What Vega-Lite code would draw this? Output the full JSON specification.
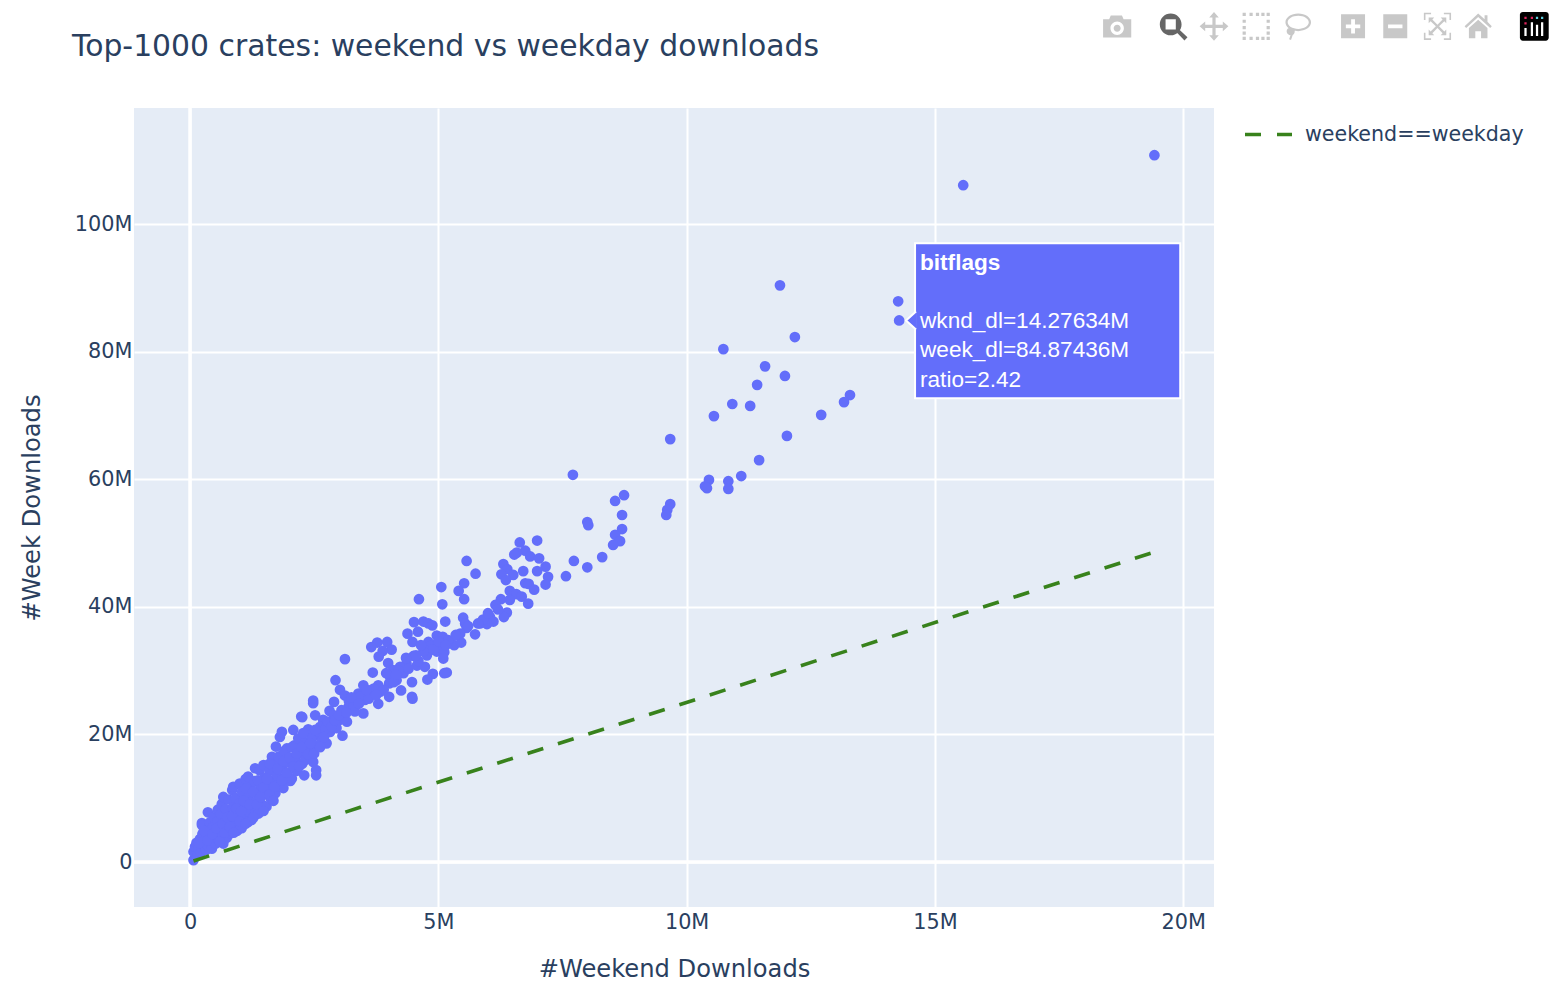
{
  "$schema": "https://vega.github.io/schema/vega-lite/v6.json",
  "description": "Top-1000 crates, weekend vs weekday downloads, values in millions",
  "autosize": {"type": "none"},
  "padding": {"left": 134, "top": 108, "right": 346, "bottom": 100},
  "width": 1080,
  "height": 799,
  "background": "white",
  "view": {"fill": "#e5ecf6", "stroke": null},
  "title": {
    "text": "Top-1000 crates: weekend vs weekday downloads",
    "anchor": "start", "frame": "group", "dx": -62, "offset": 0, "dy": 50,
    "font": "DejaVu Sans", "fontSize": 29.85, "fontWeight": "normal", "color": "#2a3f5f"
  },
  "config": {
    "axis": {
      "domain": false, "ticks": false, "gridColor": "white", "gridWidth": 2, "gridOpacity": 1,
      "labelFont": "DejaVu Sans", "labelFontSize": 20.8, "labelColor": "#2a3f5f",
      "titleFont": "DejaVu Sans", "titleFontSize": 24.2, "titleFontWeight": "normal", "titleColor": "#2a3f5f"
    }
  },
  "datasets": {
    "crates": [
      [19.42,110.8],[15.57,106.1],[11.88,90.4],[14.26,87.9],[14.28,84.9],[12.18,82.3],[10.74,80.4],[11.58,77.7],[11.98,76.2],[11.42,74.8],
      [10.92,71.8],[11.28,71.5],[10.55,69.9],[12.71,70.1],[13.29,73.2],[13.17,72.1],[12.02,66.8],[9.67,66.3],[11.46,63.0],[11.10,60.5],
      [7.71,60.7],[10.45,59.9],[10.84,59.7],[10.37,58.9],[10.41,58.6],[10.84,58.5],[8.74,57.5],[8.56,56.6],[9.67,56.1],[9.61,55.2],
      [9.59,54.4],[8.70,54.4],[8.0,53.3],[8.02,52.8],[8.70,52.2],[8.56,51.3],[8.66,50.3],[8.52,49.7],[8.30,47.8],[8.0,46.2],
      [7.73,47.2],[7.57,44.8],[6.99,50.4],[6.64,50.1],[6.75,48.8],[6.58,48.5],[6.53,48.2],[6.85,47.9],[7.03,47.6],[7.16,46.3],
      [7.21,44.7],[7.16,43.5],[6.99,45.6],[6.71,45.6],[6.31,46.7],[6.39,45.9],[6.27,45.1],[6.51,45.0],[6.36,44.2],[6.75,43.7],
      [6.82,43.6],[6.93,42.7],[6.44,42.5],[6.57,42.0],[6.68,41.6],[6.81,40.5],[6.44,41.1],[6.26,41.2],[6.15,40.3],[6.38,39.1],
      [6.32,38.4],[6.04,38.4],[6.11,37.7],[5.98,37.3],[5.84,37.4],[5.74,35.7],[5.57,36.7],[5.50,38.3],[5.54,37.4],[5.44,35.8],
      [5.57,47.2],[5.75,45.2],[5.52,43.7],[5.41,42.5],[5.52,41.2],[5.06,43.1],[5.08,40.4],[4.61,41.2],[5.14,37.7],[4.51,37.6],
      [4.70,37.7],[4.80,37.4],[4.88,37.1],[4.59,36.1],[4.38,35.8],[4.48,34.5],[4.97,35.5],[5.09,35.3],[4.80,34.5],[4.87,34.0],
      [5.03,34.3],[5.24,34.5],[5.32,34.0],[5.46,34.4],[4.73,33.2],[4.77,32.4],[4.97,33.0],[5.12,32.9],[5.10,31.9],[3.97,34.5],
      [3.77,34.4],[3.65,33.7],[4.06,33.3],[3.88,33.1],[3.80,32.2],[3.99,31.2],[4.50,32.3],[3.12,31.8],[3.68,29.7],[2.93,28.5],
      [5.17,29.7],[5.12,29.6],[4.89,29.5],[4.78,28.6],[4.73,30.6],[4.57,30.8],[4.36,31.1],[4.23,30.6],[4.09,30.1],[4.30,29.6],
      [4.47,28.2],[4.03,29.0],[4.16,28.5],[4.25,26.9],[4.01,28.0],[4.01,25.9],[4.47,25.9],[4.48,25.6],[3.79,27.7],[3.49,27.7],
      [3.63,26.9],[3.83,26.7],[3.39,26.4],[3.02,27.0],[3.12,26.1],[3.52,25.4],[3.79,24.8],[2.90,25.1],[2.48,25.3],[2.48,24.9],
      [3.49,23.3],[3.19,24.3],[3.32,23.6],[2.81,23.7],[2.52,23.0],[2.26,22.7],[3.16,22.0],[3.02,22.3],[2.89,21.7],[2.68,22.3],
      [2.62,21.2],[3.07,19.8],[2.82,20.4],[2.42,20.2],[2.55,19.9],[3.42,25.9],
      [0.07,0.3],[0.07,1.6],[0.10,2.4],[0.13,3.0],[0.15,1.2],[0.17,2.1],[0.2,3.6],[0.22,1.5],[0.24,6.1],[0.24,5.8],
      [0.25,4.4],[0.27,2.9],[0.3,3.5],[0.32,1.9],[0.33,5.0],[0.36,7.8],[0.36,2.6],[0.38,4.1],[0.4,6.2],[0.42,3.2],
      [0.44,2.1],[0.46,5.4],[0.48,7.0],[0.5,4.0],[0.52,2.9],[0.55,6.4],[0.56,8.2],[0.58,3.5],[0.6,5.2],[0.62,7.5],
      [0.64,9.1],[0.65,4.4],[0.67,2.9],[0.67,10.2],[0.7,6.2],[0.72,8.3],[0.74,3.8],[0.76,5.2],[0.78,9.8],[0.8,7.1],
      [0.82,4.5],[0.85,11.3],[0.87,11.8],[0.87,8.6],[0.9,6.0],[0.92,10.0],[0.95,4.9],[0.97,7.6],[1.0,12.3],[1.0,9.2],
      [1.04,5.3],[1.05,11.0],[1.07,6.9],[1.1,8.3],[1.12,13.0],[1.15,10.1],[1.17,13.4],[1.17,6.3],[1.2,7.8],[1.22,11.8],
      [1.24,6.6],[1.25,9.4],[1.3,12.7],[1.31,14.7],[1.32,8.2],[1.35,10.7],[1.38,7.6],[1.4,14.4],[1.42,12.0],[1.45,9.0],
      [1.48,15.2],[1.5,13.2],[1.52,10.6],[1.54,8.7],[1.58,11.8],[1.6,14.3],[1.63,9.9],[1.65,16.5],[1.66,12.8],[1.7,15.4],
      [1.72,10.8],[1.75,13.6],[1.73,18.1],[1.8,11.9],[1.81,19.6],[1.82,16.6],[1.85,20.4],[1.85,14.7],[1.88,11.6],[1.9,13.1],
      [1.95,17.8],[1.98,15.6],[2.02,12.7],[2.05,13.1],[2.08,20.7],[2.1,18.3],[2.12,16.0],[2.15,14.3],[2.18,19.4],[2.2,17.0],
      [2.24,22.8],[2.26,15.4],[2.3,13.6],[2.32,18.8],[2.32,16.0],[2.38,20.8],[2.4,17.7],[2.45,19.4],[2.48,15.7],[2.54,14.4],
      [2.54,13.6],[2.55,18.2],[2.6,20.4],[2.65,19.0],[2.72,20.9],[2.75,18.6],[2.78,22.0],[2.9,23.0],[2.95,21.0],[3.05,23.8],
      [3.1,22.6],[3.2,25.2],[3.3,24.5],[3.45,26.0],[3.6,25.6],[3.7,27.2],[3.9,27.0],[4.1,28.2],[4.2,30.0],[4.4,30.3],
      [4.6,31.5],[4.7,33.0],[4.9,33.3],[5.2,34.8],[5.6,37.0],[5.9,38.0],[6.2,39.6],
      [0.18,3.0],[0.28,4.9],[0.35,3.4],[0.45,4.4],[0.53,5.3],[0.6,3.2],[0.66,6.0],[0.7,4.6],[0.75,7.0],[0.8,5.5],
      [0.85,7.2],[0.88,4.6],[0.93,8.4],[1.0,6.4],[1.03,8.0],[1.08,9.6],[1.12,6.0],[1.13,11.5],[1.2,9.0],[1.27,11.0],
      [1.28,7.0],[1.35,9.0],[1.37,12.8],[1.42,10.2],[1.48,8.0],[1.48,11.7],[1.55,13.0],[1.6,10.6],[1.6,15.4],[1.68,9.6],
      [1.7,11.8],[1.76,14.6],[1.78,16.5],[1.85,12.8],[1.88,15.8],[1.9,17.4],[1.95,14.0],[2.0,16.4],[2.05,18.0],[2.08,15.0],
      [2.15,17.0],[2.2,15.0],[2.25,18.0],[2.28,20.2],[2.38,16.9],[2.42,18.6],[2.5,17.0],[2.52,20.7],[2.62,18.0],[2.7,19.6],
      [2.85,21.2],[2.92,22.2],[3.0,23.0],[3.15,23.4],[3.25,25.8],[3.4,24.8],[3.55,27.0],[3.75,26.2],[3.95,29.6],[4.15,29.4],
      [4.35,32.0],[4.55,32.4],[4.65,34.0],[5.0,34.6],[5.15,34.0],[5.35,35.6],[5.8,37.4],[6.0,39.0]
    ]
  },
  "encoding": {
    "x": {
      "field": "wknd_dl", "type": "quantitative",
      "scale": {"domain": [-1.128, 20.62], "nice": false, "zero": false},
      "axis": {
        "title": "#Weekend Downloads", "values": [0, 5, 10, 15, 20],
        "labelExpr": "datum.value === 0 ? '0' : datum.value + 'M'",
        "labelPadding": 5, "titlePadding": 26
      }
    },
    "y": {
      "field": "week_dl", "type": "quantitative",
      "scale": {"domain": [-7.05, 118.2], "nice": false, "zero": false},
      "axis": {
        "title": "#Week Downloads", "values": [0, 20, 40, 60, 80, 100],
        "labelExpr": "datum.value === 0 ? '0' : datum.value + 'M'",
        "labelPadding": 2, "titlePadding": 30
      }
    }
  },
  "layer": [
    {
      "data": {"values": [{"wknd_dl": 0, "week_dl": -7.05, "week_top": 118.2}]},
      "mark": {"type": "rule", "color": "white", "strokeWidth": 3.5},
      "encoding": {"y2": {"field": "week_top"}}
    },
    {
      "data": {"values": [{"wknd_dl": -1.128, "wknd_right": 20.62, "week_dl": 0}]},
      "mark": {"type": "rule", "color": "white", "strokeWidth": 3.5},
      "encoding": {"x2": {"field": "wknd_right"}}
    },
    {
      "data": {"name": "crates"},
      "transform": [
        {"calculate": "datum[0]", "as": "wknd_dl"},
        {"calculate": "datum[1]", "as": "week_dl"}
      ],
      "mark": {"type": "point", "filled": true, "opacity": 1, "size": 115, "color": "#636efa"}
    },
    {
      "data": {"values": [
        {"wknd_dl": 0.07, "week_dl": 0.17, "name": "weekend==weekday"},
        {"wknd_dl": 19.42, "week_dl": 48.6, "name": "weekend==weekday"}
      ]},
      "mark": {"type": "line", "strokeWidth": 3.6, "strokeDash": [16.5, 15.4]},
      "encoding": {
        "color": {
          "field": "name", "type": "nominal",
          "scale": {"domain": ["weekend==weekday"], "range": ["#38821c"]},
          "legend": {
            "title": null, "orient": "none", "legendX": 1109, "legendY": 1,
            "symbolType": "stroke", "symbolSize": 2209, "symbolDash": [16, 16], "symbolStrokeWidth": 3.6,
            "labelFont": "DejaVu Sans", "labelFontSize": 20.6, "labelColor": "#2a3f5f", "labelOffset": 11, "labelLimit": 300
          }
        }
      }
    },
    {
      "data": {"values": [{"wknd_dl": 14.6, "wknd_right": 19.94, "week_dl": 97.0, "week_low": 72.7}]},
      "mark": {"type": "rect", "fill": "#636efa", "stroke": "white", "strokeWidth": 2},
      "encoding": {"x2": {"field": "wknd_right"}, "y2": {"field": "week_low"}}
    },
    {
      "data": {"values": [{"wknd_dl": 14.62, "week_dl": 84.9}]},
      "mark": {"type": "point", "filled": true, "opacity": 1, "size": 400, "fill": "#636efa", "stroke": "white", "strokeWidth": 2, "shape": "M0-.9L-1 0L0 .9"}
    },
    {
      "data": {"values": [{"wknd_dl": 14.7, "week_dl": 93.9, "label": "bitflags"}]},
      "mark": {"type": "text", "align": "left", "baseline": "middle", "font": "Liberation Sans", "fontSize": 22.6, "fontWeight": "bold", "color": "white"},
      "encoding": {"text": {"field": "label"}}
    },
    {
      "data": {"values": [
        {"wknd_dl": 14.7, "week_dl": 84.8, "label": "wknd_dl=14.27634M"},
        {"wknd_dl": 14.7, "week_dl": 80.25, "label": "week_dl=84.87436M"},
        {"wknd_dl": 14.7, "week_dl": 75.55, "label": "ratio=2.42"}
      ]},
      "mark": {"type": "text", "align": "left", "baseline": "middle", "font": "Liberation Sans", "fontSize": 22.6, "color": "white"},
      "encoding": {"text": {"field": "label"}}
    },
    {
      "data": {"values": [{"wknd_dl": 18.67, "week_dl": 131}]},
      "mark": {"type": "point", "filled": true, "opacity": 1, "size": 1024, "color": "#c8c8c8", "shape": "M-.88-.45H-.5L-.4-.68H.3L.4-.45H.88V.7H-.88Z M0-.3A.42.42 0 1 0 0 .54A.42.42 0 1 0 0-.3Z M0-.1A.22.22 0 1 1 0 .34A.22.22 0 1 1 0-.1Z"}
    },
    {
      "data": {"values": [{"wknd_dl": 19.78, "week_dl": 131}]},
      "mark": {"type": "point", "filled": true, "opacity": 1, "size": 1024, "color": "#666666", "shape": "M-.1-.8A.68.68 0 1 1-.1.56A.68.68 0 1 1-.1-.8Z M-.42-.44V.2H.22V-.44Z M.3.4L.45.22L.95.68L.76.88Z"}
    },
    {
      "data": {"values": [{"wknd_dl": 20.62, "week_dl": 131}]},
      "mark": {"type": "point", "filled": true, "opacity": 1, "size": 1024, "color": "#c8c8c8", "shape": "M0-.9L.3-.55H.1V-.1H.55V-.3L.9 0L.55.3V.1H.1V.55H.3L0 .9L-.3.55H-.1V.1H-.55V.3L-.9 0L-.55-.3V-.1H-.1V-.55H-.3Z"}
    },
    {
      "data": {"values": [{"wknd_dl": 21.47, "week_dl": 131}]},
      "mark": {"type": "point", "filled": true, "opacity": 1, "size": 1024, "color": "#c8c8c8", "shape": "M-.85-.85h.2v.2h-.2Z M-.42-.85h.2v.2h-.2Z M-.02-.85h.2v.2h-.2Z M.65-.85h.2v.2h-.2Z M.32-.85h.2v.2h-.2Z M-.85-.42h.2v.2h-.2Z M.65-.42h.2v.2h-.2Z M-.85-.02h.2v.2h-.2Z M.65-.02h.2v.2h-.2Z M-.85.65h.2v.2h-.2Z M-.42.65h.2v.2h-.2Z M-.02.65h.2v.2h-.2Z M.32.65h.2v.2h-.2Z M.65.65h.2v.2h-.2Z M-.85.32h.2v.2h-.2Z M.65.32h.2v.2h-.2Z"}
    },
    {
      "data": {"values": [{"wknd_dl": 22.3, "week_dl": 131}]},
      "mark": {"type": "point", "filled": true, "opacity": 1, "size": 1024, "color": "#c8c8c8", "shape": "M.05-.8A.8.55 0 1 1 .05.3A.8.55 0 1 1 .05-.8Z M.05-.66A.66.41 0 1 0 .05.16A.66.41 0 1 0 .05-.66Z M-.55.1A.24.24 0 1 1-.3.55L-.4.85L-.52.8L-.43.55A.24.24 0 0 1-.55.1Z"}
    },
    {
      "data": {"values": [{"wknd_dl": 23.42, "week_dl": 131}]},
      "mark": {"type": "point", "filled": true, "opacity": 1, "size": 1024, "color": "#c8c8c8", "shape": "M-.75-.75H.75V.75H-.75Z M-.12-.45V-.12H-.45V.12H-.12V.45H.12V.12H.45V-.12H.12V-.45Z"}
    },
    {
      "data": {"values": [{"wknd_dl": 24.27, "week_dl": 131}]},
      "mark": {"type": "point", "filled": true, "opacity": 1, "size": 1024, "color": "#c8c8c8", "shape": "M-.75-.75H.75V.75H-.75Z M-.45-.12V.12H.45V-.12Z"}
    },
    {
      "data": {"values": [{"wknd_dl": 25.12, "week_dl": 131}]},
      "mark": {"type": "point", "filled": true, "opacity": 1, "size": 1024, "color": "#c8c8c8", "shape": "M-.85-.85H-.4V-.75H-.75V-.4H-.85Z M.4-.85H.85V-.4H.75V-.75H.4Z M-.85.4H-.75V.75H-.4V.85H-.85Z M.75.4H.85V.85H.4V.75H.75Z M-.55-.55H-.2L-.32-.43L0-.1L.32-.43L.2-.55H.55V-.2L.43-.32L.1 0L.43.32L.55.2V.55H.2L.32.43L0 .1L-.32.43L-.2.55H-.55V.2L-.43.32L-.1 0L-.43-.32L-.55-.2Z"}
    },
    {
      "data": {"values": [{"wknd_dl": 25.94, "week_dl": 131}]},
      "mark": {"type": "point", "filled": true, "opacity": 1, "size": 1024, "color": "#c8c8c8", "shape": "M0-.8L.4-.45V-.7H.58V-.28L.85 0L.75.1L0-.58L-.75.1L-.85 0Z M-.58.1L0-.42L.58.1V.75H.18V.3H-.18V.75H-.58Z"}
    },
    {
      "data": {"values": [{"wknd_dl": 27.07, "week_dl": 131}]},
      "mark": {"type": "point", "filled": true, "opacity": 1, "size": 1024, "color": "#000000", "shape": "M-.72-.9H.72A.18.18 0 0 1 .9-.72V.72A.18.18 0 0 1 .72.9H-.72A.18.18 0 0 1-.9.72V-.72A.18.18 0 0 1-.72-.9Z"}
    },
    {
      "data": {"values": [{"wknd_dl": 27.07, "week_dl": 131}]},
      "mark": {"type": "point", "filled": true, "opacity": 1, "size": 1024, "color": "white", "shape": "M-.62.1h.14v.5h-.14Z M-.22-.25h.14v.85h-.14Z M.1-.1h.14v.7h-.14Z M.42-.25h.14v.85h-.14Z"}
    },
    {
      "data": {"values": [{"wknd_dl": 27.07, "week_dl": 131}]},
      "mark": {"type": "point", "filled": true, "opacity": 1, "size": 1024, "color": "#e0245e", "shape": "M-.62-.6h.14v.14h-.14Z M-.22-.6h.14v.14h-.14Z M-.62-.25h.14v.14h-.14Z"}
    },
    {
      "data": {"values": [{"wknd_dl": 27.07, "week_dl": 131}]},
      "mark": {"type": "point", "filled": true, "opacity": 1, "size": 1024, "color": "#5fd0e0", "shape": "M.1-.6h.14v.14h-.14Z M.42-.6h.14v.14h-.14Z"}
    }
  ]
}
